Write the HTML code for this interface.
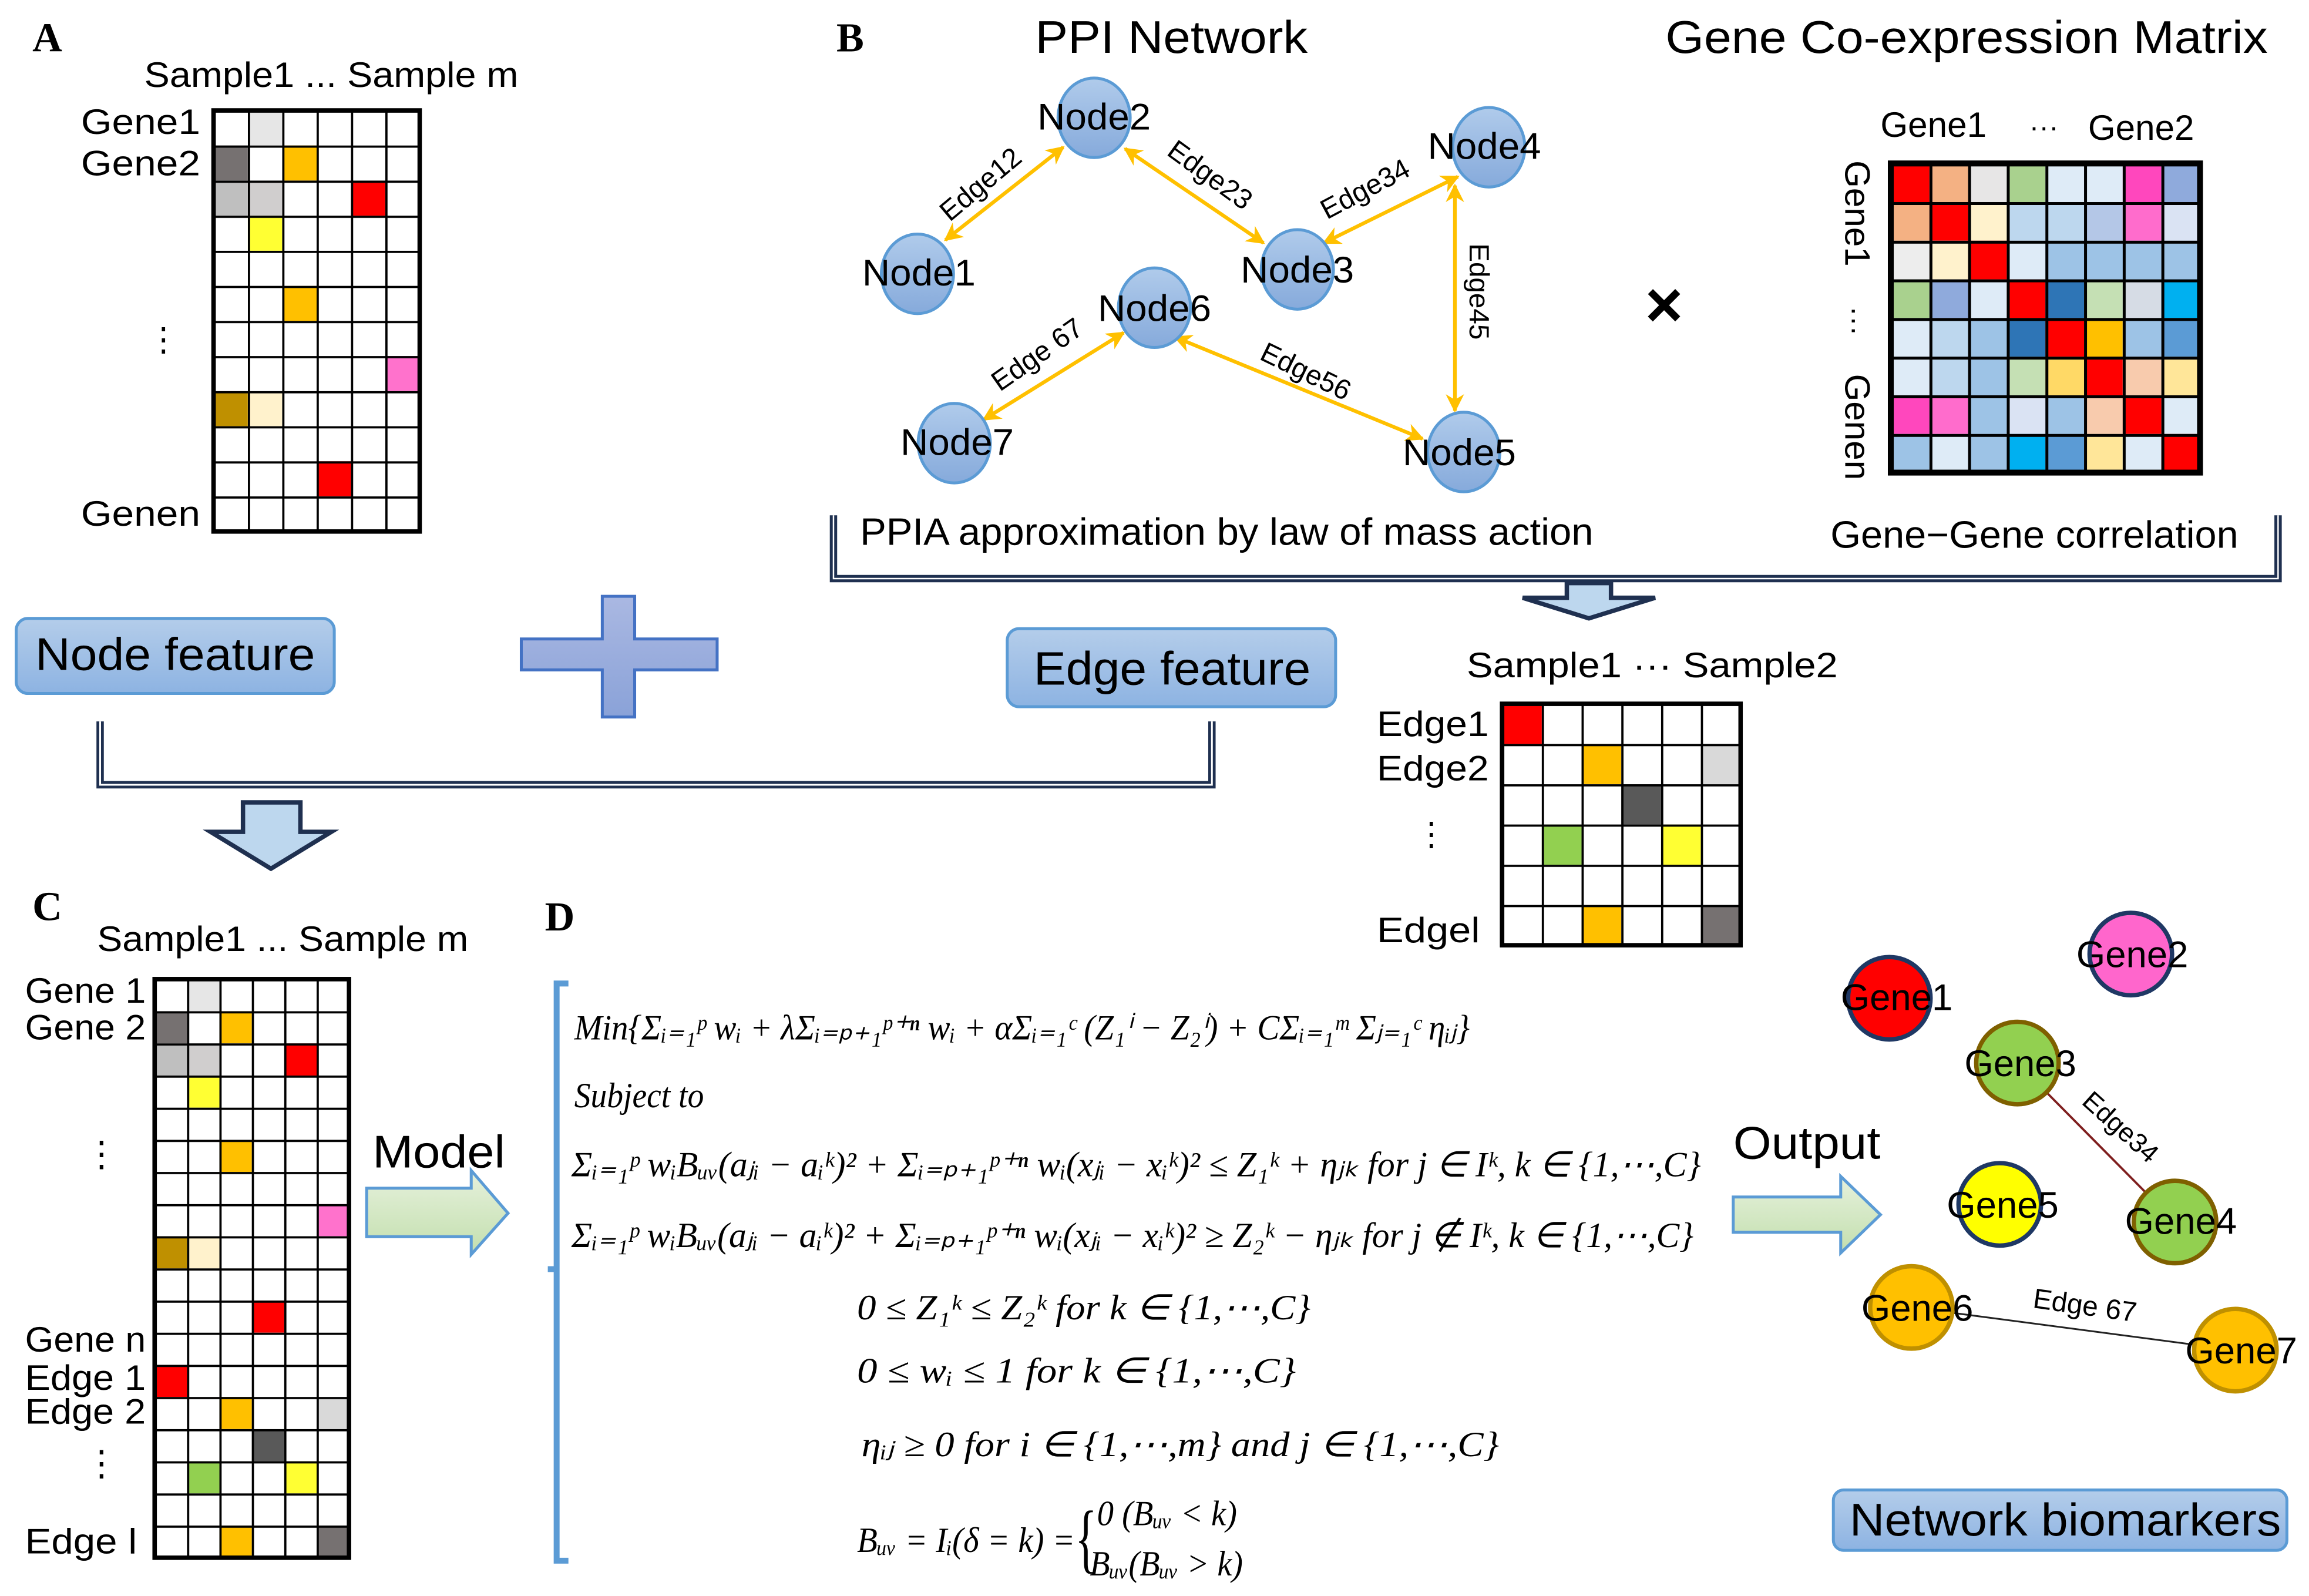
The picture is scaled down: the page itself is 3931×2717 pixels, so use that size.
<!DOCTYPE html>
<html><head><meta charset="utf-8"><style>
html,body{margin:0;padding:0;background:#fff;}
svg{display:block;}
text{font-family:"Liberation Sans",sans-serif;fill:#000;}
.ser{font-family:"Liberation Serif",serif;}
.eq{font-family:"Liberation Serif",serif;font-style:italic;font-size:24px;}
</style></head><body>
<svg width="3931" height="2717" viewBox="0 0 1568 1084" preserveAspectRatio="none" xmlns="http://www.w3.org/2000/svg">
<defs>
<linearGradient id="bx" x1="0" y1="0" x2="0" y2="1"><stop offset="0" stop-color="#b4cdea"/><stop offset="1" stop-color="#8db3e2"/></linearGradient>
<linearGradient id="nd" x1="0" y1="0" x2="0" y2="1"><stop offset="0" stop-color="#b0cbeb"/><stop offset="1" stop-color="#86aadb"/></linearGradient>
<linearGradient id="pl" x1="0" y1="0" x2="0" y2="1"><stop offset="0" stop-color="#aab8e2"/><stop offset="1" stop-color="#8aa2d8"/></linearGradient>
<linearGradient id="gr" x1="0" y1="0" x2="0" y2="1"><stop offset="0" stop-color="#e6f1dc"/><stop offset="1" stop-color="#c3dfae"/></linearGradient>
<pattern id="gA" patternUnits="userSpaceOnUse" x="145" y="75" width="23.333" height="23.833"><path d="M0 0H23.333M0 0V23.833" stroke="#000" stroke-width="3" fill="none"/></pattern>
<pattern id="gC" patternUnits="userSpaceOnUse" x="105" y="665" width="22" height="21.833"><path d="M0 0H22M0 0V21.833" stroke="#000" stroke-width="3" fill="none"/></pattern>
<pattern id="gE" patternUnits="userSpaceOnUse" x="1020" y="478" width="27" height="27.333"><path d="M0 0H27M0 0V27.333" stroke="#000" stroke-width="3" fill="none"/></pattern>
<pattern id="gM" patternUnits="userSpaceOnUse" x="1284" y="111" width="26.25" height="26.25"><path d="M0 0H26.25M0 0V26.25" stroke="#000" stroke-width="4" fill="none"/></pattern>
<marker id="ah" viewBox="0 0 10 10" refX="9" refY="5" markerWidth="5" markerHeight="5" orient="auto-start-reverse"><path d="M0 0L10 5L0 10L3 5z" fill="#ffc000"/></marker>
</defs>

<!-- Panel A -->
<text x="22" y="35" class="ser" font-size="28" font-weight="bold">A</text>
<text x="98" y="59" font-size="24" textLength="254" lengthAdjust="spacingAndGlyphs">Sample1 ... Sample m</text>
<text x="55" y="91" font-size="24" textLength="81" lengthAdjust="spacingAndGlyphs">Gene1</text>
<text x="55" y="119" font-size="24" textLength="81" lengthAdjust="spacingAndGlyphs">Gene2</text>
<text x="100" y="238" font-size="22">⋮</text>
<text x="55" y="357" font-size="24" textLength="81" lengthAdjust="spacingAndGlyphs">Genen</text>
<rect x="145" y="75" width="140" height="286" fill="#fff"/>
<g>
<rect x="168.3" y="75" width="23.3" height="23.8" fill="#e6e6e6"/>
<rect x="145" y="98.8" width="23.3" height="23.8" fill="#767171"/>
<rect x="191.7" y="98.8" width="23.3" height="23.8" fill="#ffc000"/>
<rect x="145" y="122.7" width="23.3" height="23.8" fill="#bfbfbf"/>
<rect x="168.3" y="122.7" width="23.3" height="23.8" fill="#d0cece"/>
<rect x="238.3" y="122.7" width="23.3" height="23.8" fill="#ff0000"/>
<rect x="168.3" y="146.5" width="23.3" height="23.8" fill="#ffff33"/>
<rect x="191.7" y="194.2" width="23.3" height="23.8" fill="#ffc000"/>
<rect x="261.7" y="241.8" width="23.3" height="23.8" fill="#ff72cc"/>
<rect x="145" y="265.7" width="23.3" height="23.8" fill="#bf9000"/>
<rect x="168.3" y="265.7" width="23.3" height="23.8" fill="#fff2cc"/>
<rect x="215" y="313.3" width="23.3" height="23.8" fill="#ff0000"/>
</g>
<rect x="145" y="75" width="140" height="286" fill="url(#gA)" stroke="#000" stroke-width="3"/>

<!-- Node feature, plus, Edge feature -->
<rect x="11" y="420" width="216" height="51" rx="8" fill="url(#bx)" stroke="#5b9bd5" stroke-width="2"/>
<text x="24" y="455" font-size="31" textLength="190" lengthAdjust="spacingAndGlyphs">Node feature</text>
<path d="M409 405H431V434H487V455H431V487H409V455H354V434H409Z" fill="url(#pl)" stroke="#4472c4" stroke-width="2"/>
<rect x="684" y="427" width="223" height="53" rx="8" fill="url(#bx)" stroke="#5b9bd5" stroke-width="2"/>
<text x="702" y="465" font-size="32" textLength="188" lengthAdjust="spacingAndGlyphs">Edge feature</text>

<!-- Bracket A/Edge -->
<path d="M68 490V533H823V490" fill="none" stroke="#1f3050" stroke-width="5"/>
<path d="M68 490V533H823V490" fill="none" stroke="#fff" stroke-width="1.2"/>
<path d="M165 545H204V565H225L184 590L143 565H165Z" fill="#bdd7ee" stroke="#1f3050" stroke-width="3"/>

<!-- Panel B -->
<text x="568" y="35" class="ser" font-size="28" font-weight="bold">B</text>
<text x="703" y="36" font-size="31" textLength="185" lengthAdjust="spacingAndGlyphs">PPI Network</text>
<text x="1131" y="36" font-size="31" textLength="409" lengthAdjust="spacingAndGlyphs">Gene Co-expression Matrix</text>
<g stroke="#ffc000" stroke-width="2.5" marker-start="url(#ah)" marker-end="url(#ah)">
<line x1="642" y1="163" x2="722" y2="100"/>
<line x1="764" y1="101" x2="858" y2="165"/>
<line x1="899" y1="165" x2="990" y2="120"/>
<line x1="988" y1="126" x2="988" y2="279"/>
<line x1="798" y1="229" x2="966" y2="298"/>
<line x1="668" y1="285" x2="763" y2="226"/>
</g>
<g fill="url(#nd)" stroke="#5b9bd5" stroke-width="2">
<ellipse cx="743" cy="80" rx="24.5" ry="27"/>
<ellipse cx="623" cy="186" rx="24.5" ry="27"/>
<ellipse cx="881" cy="183" rx="24.5" ry="27"/>
<ellipse cx="1011" cy="100" rx="24.5" ry="27"/>
<ellipse cx="784" cy="209" rx="24.5" ry="27"/>
<ellipse cx="648" cy="301" rx="24.5" ry="27"/>
<ellipse cx="994" cy="307" rx="24.5" ry="27"/>
</g>
<g font-size="25" text-anchor="middle">
<text x="743" y="88" textLength="77" lengthAdjust="spacingAndGlyphs">Node2</text>
<text x="624" y="194" textLength="77" lengthAdjust="spacingAndGlyphs">Node1</text>
<text x="881" y="192" textLength="77" lengthAdjust="spacingAndGlyphs">Node3</text>
<text x="1008" y="108" textLength="77" lengthAdjust="spacingAndGlyphs">Node4</text>
<text x="784" y="218" textLength="77" lengthAdjust="spacingAndGlyphs">Node6</text>
<text x="650" y="309" textLength="77" lengthAdjust="spacingAndGlyphs">Node7</text>
<text x="991" y="316" textLength="77" lengthAdjust="spacingAndGlyphs">Node5</text>
</g>
<g font-size="19" text-anchor="middle">
<text transform="translate(670,130) rotate(-40)">Edge12</text>
<text transform="translate(818,124) rotate(36)">Edge23</text>
<text transform="translate(930,134) rotate(-28)">Edge34</text>
<text transform="translate(998,198) rotate(90)">Edge45</text>
<text transform="translate(884,258) rotate(26)">Edge56</text>
<text transform="translate(708,246) rotate(-35)">Edge 67</text>
</g>
<text x="1130" y="222" font-size="44" font-weight="bold" text-anchor="middle">×</text>

<text x="1313" y="93" font-size="24" text-anchor="middle">Gene1</text>
<text x="1388" y="93" font-size="20" text-anchor="middle">···</text>
<text x="1454" y="95" font-size="24" text-anchor="middle">Gene2</text>
<text transform="translate(1253,145) rotate(90)" font-size="24" text-anchor="middle">Gene1</text>
<text transform="translate(1253,218) rotate(90)" font-size="20" text-anchor="middle">···</text>
<text transform="translate(1253,290) rotate(90)" font-size="24" text-anchor="middle">Genen</text>
<g>
<rect x="1284" y="111" width="26.25" height="26.25" fill="#ff0000"/><rect x="1310.25" y="111" width="26.25" height="26.25" fill="#f4b183"/><rect x="1336.5" y="111" width="26.25" height="26.25" fill="#e7e6e6"/><rect x="1362.75" y="111" width="26.25" height="26.25" fill="#a9d18e"/><rect x="1389" y="111" width="26.25" height="26.25" fill="#deebf7"/><rect x="1415.25" y="111" width="26.25" height="26.25" fill="#deebf7"/><rect x="1441.5" y="111" width="26.25" height="26.25" fill="#ff47bd"/><rect x="1467.75" y="111" width="26.25" height="26.25" fill="#8faadc"/>
<rect x="1284" y="137.25" width="26.25" height="26.25" fill="#f4b183"/><rect x="1310.25" y="137.25" width="26.25" height="26.25" fill="#ff0000"/><rect x="1336.5" y="137.25" width="26.25" height="26.25" fill="#fff2cc"/><rect x="1362.75" y="137.25" width="26.25" height="26.25" fill="#bdd7ee"/><rect x="1389" y="137.25" width="26.25" height="26.25" fill="#bdd7ee"/><rect x="1415.25" y="137.25" width="26.25" height="26.25" fill="#b4c7e7"/><rect x="1441.5" y="137.25" width="26.25" height="26.25" fill="#ff6ccc"/><rect x="1467.75" y="137.25" width="26.25" height="26.25" fill="#dae3f3"/>
<rect x="1284" y="163.5" width="26.25" height="26.25" fill="#ededed"/><rect x="1310.25" y="163.5" width="26.25" height="26.25" fill="#fff2cc"/><rect x="1336.5" y="163.5" width="26.25" height="26.25" fill="#ff0000"/><rect x="1362.75" y="163.5" width="26.25" height="26.25" fill="#deebf7"/><rect x="1389" y="163.5" width="105" height="26.25" fill="#9dc3e6"/>
<rect x="1284" y="189.75" width="26.25" height="26.25" fill="#a9d18e"/><rect x="1310.25" y="189.75" width="26.25" height="26.25" fill="#8faadc"/><rect x="1336.5" y="189.75" width="26.25" height="26.25" fill="#deebf7"/><rect x="1362.75" y="189.75" width="26.25" height="26.25" fill="#ff0000"/><rect x="1389" y="189.75" width="26.25" height="26.25" fill="#2e75b6"/><rect x="1415.25" y="189.75" width="26.25" height="26.25" fill="#c5e0b4"/><rect x="1441.5" y="189.75" width="26.25" height="26.25" fill="#d6dce5"/><rect x="1467.75" y="189.75" width="26.25" height="26.25" fill="#00b0f0"/>
<rect x="1284" y="216" width="26.25" height="26.25" fill="#deebf7"/><rect x="1310.25" y="216" width="26.25" height="26.25" fill="#bdd7ee"/><rect x="1336.5" y="216" width="26.25" height="26.25" fill="#9dc3e6"/><rect x="1362.75" y="216" width="26.25" height="26.25" fill="#2e75b6"/><rect x="1389" y="216" width="26.25" height="26.25" fill="#ff0000"/><rect x="1415.25" y="216" width="26.25" height="26.25" fill="#ffc000"/><rect x="1441.5" y="216" width="26.25" height="26.25" fill="#9dc3e6"/><rect x="1467.75" y="216" width="26.25" height="26.25" fill="#5b9bd5"/>
<rect x="1284" y="242.25" width="26.25" height="26.25" fill="#deebf7"/><rect x="1310.25" y="242.25" width="26.25" height="26.25" fill="#bdd7ee"/><rect x="1336.5" y="242.25" width="26.25" height="26.25" fill="#9dc3e6"/><rect x="1362.75" y="242.25" width="26.25" height="26.25" fill="#c5e0b4"/><rect x="1389" y="242.25" width="26.25" height="26.25" fill="#ffd966"/><rect x="1415.25" y="242.25" width="26.25" height="26.25" fill="#ff0000"/><rect x="1441.5" y="242.25" width="26.25" height="26.25" fill="#f8cbad"/><rect x="1467.75" y="242.25" width="26.25" height="26.25" fill="#ffe699"/>
<rect x="1284" y="268.5" width="26.25" height="26.25" fill="#ff47bd"/><rect x="1310.25" y="268.5" width="26.25" height="26.25" fill="#ff6ccc"/><rect x="1336.5" y="268.5" width="26.25" height="26.25" fill="#9dc3e6"/><rect x="1362.75" y="268.5" width="26.25" height="26.25" fill="#dae3f3"/><rect x="1389" y="268.5" width="26.25" height="26.25" fill="#9dc3e6"/><rect x="1415.25" y="268.5" width="26.25" height="26.25" fill="#f8cbad"/><rect x="1441.5" y="268.5" width="26.25" height="26.25" fill="#ff0000"/><rect x="1467.75" y="268.5" width="26.25" height="26.25" fill="#deebf7"/>
<rect x="1284" y="294.75" width="26.25" height="26.25" fill="#9dc3e6"/><rect x="1310.25" y="294.75" width="26.25" height="26.25" fill="#deebf7"/><rect x="1336.5" y="294.75" width="26.25" height="26.25" fill="#9dc3e6"/><rect x="1362.75" y="294.75" width="26.25" height="26.25" fill="#00b0f0"/><rect x="1389" y="294.75" width="26.25" height="26.25" fill="#5b9bd5"/><rect x="1415.25" y="294.75" width="26.25" height="26.25" fill="#ffe699"/><rect x="1441.5" y="294.75" width="26.25" height="26.25" fill="#deebf7"/><rect x="1467.75" y="294.75" width="26.25" height="26.25" fill="#ff0000"/>
</g>
<rect x="1284" y="111" width="210" height="210" fill="url(#gM)" stroke="#000" stroke-width="4"/>

<text x="584" y="370" font-size="26" textLength="498" lengthAdjust="spacingAndGlyphs">PPIA approximation by law of mass action</text>
<text x="1243" y="372" font-size="26" textLength="277" lengthAdjust="spacingAndGlyphs">Gene−Gene correlation</text>
<path d="M566 350V393H1547V350" fill="none" stroke="#1f3050" stroke-width="5"/>
<path d="M566 350V393H1547V350" fill="none" stroke="#fff" stroke-width="1"/>
<path d="M1064 396H1094V406H1124L1079 420L1034 406H1064Z" fill="#bdd7ee" stroke="#1f3050" stroke-width="3"/>

<!-- Edge matrix -->
<text x="996" y="460" font-size="24" textLength="252" lengthAdjust="spacingAndGlyphs">Sample1 ··· Sample2</text>
<text x="935" y="500" font-size="24" textLength="76" lengthAdjust="spacingAndGlyphs">Edge1</text>
<text x="935" y="530" font-size="24" textLength="76" lengthAdjust="spacingAndGlyphs">Edge2</text>
<text x="961" y="574" font-size="22">⋮</text>
<text x="935" y="640" font-size="24" textLength="70" lengthAdjust="spacingAndGlyphs">Edgel</text>
<rect x="1020" y="478" width="162" height="164" fill="#fff"/>
<rect x="1020" y="478" width="27" height="27.3" fill="#ff0000"/>
<rect x="1074" y="505.3" width="27" height="27.3" fill="#ffc000"/>
<rect x="1155" y="505.3" width="27" height="27.3" fill="#d9d9d9"/>
<rect x="1101" y="532.7" width="27" height="27.3" fill="#595959"/>
<rect x="1047" y="560" width="27" height="27.3" fill="#92d050"/>
<rect x="1128" y="560" width="27" height="27.3" fill="#ffff33"/>
<rect x="1074" y="614.7" width="27" height="27.3" fill="#ffc000"/>
<rect x="1155" y="614.7" width="27" height="27.3" fill="#767171"/>
<rect x="1020" y="478" width="162" height="164" fill="url(#gE)" stroke="#000" stroke-width="3"/>

<!-- Panel C -->
<text x="22" y="625" class="ser" font-size="28" font-weight="bold">C</text>
<text x="66" y="646" font-size="24" textLength="252" lengthAdjust="spacingAndGlyphs">Sample1 ... Sample m</text>
<g font-size="24">
<text x="17" y="681" textLength="82" lengthAdjust="spacingAndGlyphs">Gene 1</text>
<text x="17" y="706" textLength="82" lengthAdjust="spacingAndGlyphs">Gene 2</text>
<text x="57" y="792">⋮</text>
<text x="17" y="918" textLength="82" lengthAdjust="spacingAndGlyphs">Gene n</text>
<text x="17" y="944" textLength="82" lengthAdjust="spacingAndGlyphs">Edge 1</text>
<text x="17" y="967" textLength="82" lengthAdjust="spacingAndGlyphs">Edge 2</text>
<text x="57" y="1002">⋮</text>
<text x="17" y="1055" textLength="76" lengthAdjust="spacingAndGlyphs">Edge l</text>
</g>
<rect x="105" y="665" width="132" height="393" fill="#fff"/>
<g>
<rect x="127" y="665" width="22" height="21.8" fill="#e6e6e6"/>
<rect x="105" y="686.8" width="22" height="21.8" fill="#767171"/>
<rect x="149" y="686.8" width="22" height="21.8" fill="#ffc000"/>
<rect x="105" y="708.7" width="22" height="21.8" fill="#bfbfbf"/>
<rect x="127" y="708.7" width="22" height="21.8" fill="#d0cece"/>
<rect x="193" y="708.7" width="22" height="21.8" fill="#ff0000"/>
<rect x="127" y="730.5" width="22" height="21.8" fill="#ffff33"/>
<rect x="149" y="774.2" width="22" height="21.8" fill="#ffc000"/>
<rect x="215" y="817.8" width="22" height="21.8" fill="#ff72cc"/>
<rect x="105" y="839.7" width="22" height="21.8" fill="#bf9000"/>
<rect x="127" y="839.7" width="22" height="21.8" fill="#fff2cc"/>
<rect x="171" y="883.3" width="22" height="21.8" fill="#ff0000"/>
<rect x="105" y="927" width="22" height="21.8" fill="#ff0000"/>
<rect x="149" y="948.8" width="22" height="21.8" fill="#ffc000"/>
<rect x="215" y="948.8" width="22" height="21.8" fill="#d9d9d9"/>
<rect x="171" y="970.7" width="22" height="21.8" fill="#595959"/>
<rect x="127" y="992.5" width="22" height="21.8" fill="#92d050"/>
<rect x="193" y="992.5" width="22" height="21.8" fill="#ffff33"/>
<rect x="149" y="1036.2" width="22" height="21.8" fill="#ffc000"/>
<rect x="215" y="1036.2" width="22" height="21.8" fill="#767171"/>
</g>
<rect x="105" y="665" width="132" height="393" fill="url(#gC)" stroke="#000" stroke-width="3"/>

<text x="253" y="793" font-size="31" textLength="90" lengthAdjust="spacingAndGlyphs">Model</text>
<path d="M249 807H320V795L345 824L320 852V840H249Z" fill="url(#gr)" stroke="#5b9bd5" stroke-width="2"/>

<!-- Panel D -->
<text x="370" y="632" class="ser" font-size="28" font-weight="bold">D</text>
<path d="M386 668H378V1060H386" fill="none" stroke="#5b9bd5" stroke-width="4"/>
<path d="M378 862H372" stroke="#5b9bd5" stroke-width="4"/>
<text x="390" y="706" class="eq" font-size="26" textLength="608" lengthAdjust="spacingAndGlyphs">Min{Σᵢ₌₁ᵖ wᵢ + λΣᵢ₌ₚ₊₁ᵖ⁺ⁿ wᵢ + αΣᵢ₌₁ᶜ (Z₁ⁱ − Z₂ⁱ) + CΣᵢ₌₁ᵐ Σⱼ₌₁ᶜ ηᵢⱼ}</text>
<text x="390" y="752" class="eq" font-size="20" textLength="88" lengthAdjust="spacingAndGlyphs">Subject to</text>
<text x="388" y="799" class="eq" font-size="26" textLength="767" lengthAdjust="spacingAndGlyphs">Σᵢ₌₁ᵖ wᵢBᵤᵥ(aⱼᵢ − aᵢᵏ)² + Σᵢ₌ₚ₊₁ᵖ⁺ⁿ wᵢ(xⱼᵢ − xᵢᵏ)² ≤ Z₁ᵏ + ηⱼₖ for j ∈ Iᵏ, k ∈ {1,⋯,C}</text>
<text x="388" y="847" class="eq" font-size="26" textLength="762" lengthAdjust="spacingAndGlyphs">Σᵢ₌₁ᵖ wᵢBᵤᵥ(aⱼᵢ − aᵢᵏ)² + Σᵢ₌ₚ₊₁ᵖ⁺ⁿ wᵢ(xⱼᵢ − xᵢᵏ)² ≥ Z₂ᵏ − ηⱼₖ for j ∉ Iᵏ, k ∈ {1,⋯,C}</text>
<text x="582" y="896" class="eq" font-size="26" textLength="308" lengthAdjust="spacingAndGlyphs">0 ≤ Z₁ᵏ ≤ Z₂ᵏ  for k ∈ {1,⋯,C}</text>
<text x="582" y="939" class="eq" font-size="26" textLength="298" lengthAdjust="spacingAndGlyphs">0 ≤ wᵢ ≤ 1  for  k ∈ {1,⋯,C}</text>
<text x="585" y="989" class="eq" font-size="26" textLength="433" lengthAdjust="spacingAndGlyphs">ηᵢⱼ ≥ 0 for i ∈ {1,⋯,m} and j ∈ {1,⋯,C}</text>
<text x="582" y="1054" class="eq" font-size="19" textLength="148" lengthAdjust="spacingAndGlyphs">Bᵤᵥ = Iᵢ(δ = k) =</text>
<text x="730" y="1062" class="ser" font-size="52" transform="translate(730,1062) scale(0.6,1) translate(-730,-1062)">{</text>
<text x="745" y="1036" class="eq" font-size="18" textLength="95" lengthAdjust="spacingAndGlyphs">0 (Bᵤᵥ &lt; k)</text>
<text x="740" y="1070" class="eq" font-size="18" textLength="104" lengthAdjust="spacingAndGlyphs">Bᵤᵥ(Bᵤᵥ &gt; k)</text>

<!-- Output -->
<text x="1177" y="787" font-size="31" textLength="100" lengthAdjust="spacingAndGlyphs">Output</text>
<path d="M1177 813H1250V799L1277 825L1250 851V837H1177Z" fill="url(#gr)" stroke="#5b9bd5" stroke-width="2"/>

<line x1="1370" y1="722" x2="1477" y2="830" stroke="#7f1f1f" stroke-width="1.5"/>
<line x1="1298" y1="888" x2="1518" y2="917" stroke="#222" stroke-width="1.2"/>
<circle cx="1283" cy="678" r="28" fill="#ff0000" stroke="#1f3864" stroke-width="3"/>
<circle cx="1447" cy="648" r="28" fill="#ff66cc" stroke="#1f3864" stroke-width="3"/>
<circle cx="1370" cy="722" r="28" fill="#92d050" stroke="#7f6000" stroke-width="3"/>
<circle cx="1477" cy="830" r="28" fill="#92d050" stroke="#7f6000" stroke-width="3"/>
<circle cx="1358" cy="818" r="28" fill="#ffff00" stroke="#1f3864" stroke-width="3"/>
<circle cx="1298" cy="888" r="28" fill="#ffc000" stroke="#bf9000" stroke-width="3"/>
<circle cx="1518" cy="917" r="28" fill="#ffc000" stroke="#bf9000" stroke-width="3"/>
<g font-size="25" text-anchor="middle">
<text x="1288" y="686" textLength="76" lengthAdjust="spacingAndGlyphs">Gene1</text>
<text x="1448" y="657" textLength="76" lengthAdjust="spacingAndGlyphs">Gene2</text>
<text x="1372" y="731" textLength="76" lengthAdjust="spacingAndGlyphs">Gene3</text>
<text x="1481" y="838" textLength="76" lengthAdjust="spacingAndGlyphs">Gene4</text>
<text x="1360" y="827" textLength="76" lengthAdjust="spacingAndGlyphs">Gene5</text>
<text x="1302" y="897" textLength="76" lengthAdjust="spacingAndGlyphs">Gene6</text>
<text x="1522" y="926" textLength="76" lengthAdjust="spacingAndGlyphs">Gene7</text>
</g>
<text transform="translate(1436,770) rotate(42)" font-size="18" text-anchor="middle">Edge34</text>
<text transform="translate(1415,893) rotate(8)" font-size="19" text-anchor="middle">Edge 67</text>

<rect x="1245" y="1012" width="308" height="41" rx="7" fill="url(#bx)" stroke="#5b9bd5" stroke-width="2"/>
<text x="1256" y="1043" font-size="31" textLength="293" lengthAdjust="spacingAndGlyphs">Network biomarkers</text>
</svg>
</body></html>
